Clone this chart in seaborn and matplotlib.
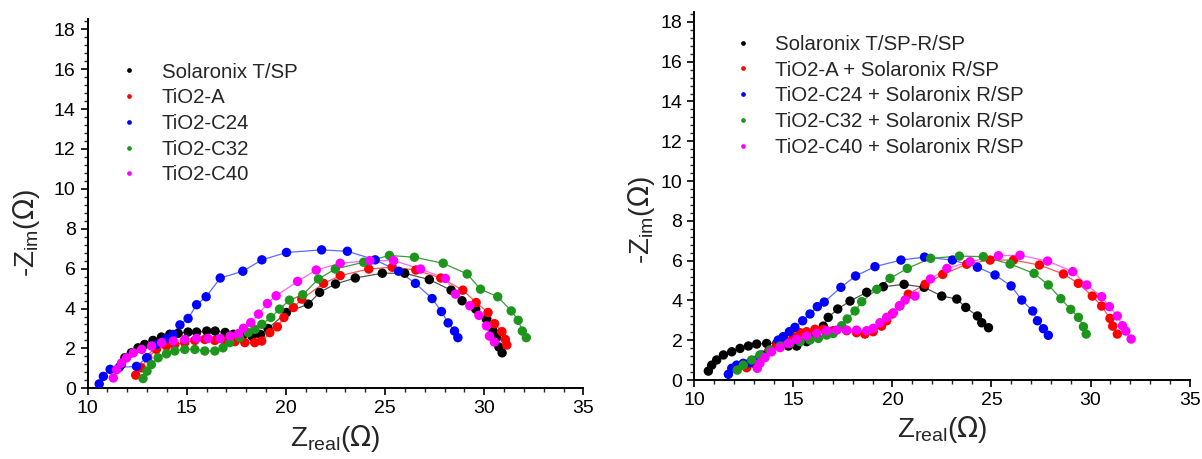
import matplotlib
matplotlib.use("Agg")
import matplotlib.pyplot as plt
from matplotlib.ticker import MultipleLocator
import seaborn as sns
import pandas as pd

# ---- left panel: photoanodes ----
left_names = ["Solaronix T/SP", "TiO2-A", "TiO2-C24", "TiO2-C32", "TiO2-C40"]

l_black_x = [11.70, 11.88, 12.21, 12.55, 12.88, 13.30, 13.73, 14.15, 14.57, 15.07, 15.50, 16.01,
             16.43, 16.94, 17.36, 17.82, 18.30, 18.72, 19.10, 20.03, 21.13, 21.70, 22.50, 23.50,
             24.86, 25.99, 27.23, 28.33, 28.88, 29.57, 30.11, 30.45, 30.62, 30.74, 30.90]
l_black_y = [1.19, 1.53, 1.78, 2.03, 2.20, 2.40, 2.57, 2.71, 2.76, 2.82, 2.82, 2.87,
             2.87, 2.80, 2.71, 2.65, 2.60, 2.70, 3.00, 3.80, 4.22, 4.81, 5.23, 5.53,
             5.77, 5.77, 5.45, 4.92, 4.39, 3.97, 3.46, 2.87, 2.54, 2.07, 1.78]

l_red_x = [12.43, 12.71, 13.04, 13.47, 13.98, 14.40, 14.90, 15.41, 15.91, 16.42, 16.93, 17.43,
           17.93, 18.43, 18.78, 19.19, 19.57, 19.90, 20.38, 20.80, 21.90, 22.74, 24.18, 25.36,
           26.55, 27.81, 28.92, 29.59, 30.19, 30.52, 30.89, 31.06, 31.14]
l_red_y = [0.66, 1.03, 1.53, 1.95, 2.12, 2.20, 2.29, 2.40, 2.45, 2.40, 2.37, 2.34,
           2.29, 2.29, 2.37, 2.79, 3.08, 3.55, 4.05, 4.47, 5.26, 5.65, 5.98, 6.07,
           5.93, 5.53, 4.92, 4.30, 3.80, 3.24, 2.84, 2.45, 2.17]

l_blue_x = [10.59, 10.80, 11.14, 11.60, 12.47, 12.98, 13.48, 13.98, 14.32, 14.66, 15.07, 15.50,
            15.98, 16.69, 17.83, 18.79, 20.03, 21.80, 23.10, 24.50, 25.68, 26.53, 27.37, 27.84,
            28.18, 28.50, 28.67]
l_blue_y = [0.22, 0.60, 0.95, 1.05, 1.10, 1.53, 2.20, 2.50, 2.70, 3.18, 3.50, 4.19,
            4.59, 5.53, 5.87, 6.44, 6.81, 6.94, 6.87, 6.44, 5.87, 5.26, 4.50, 3.85,
            3.28, 2.87, 2.54]

l_green_x = [12.80, 13.00, 13.22, 13.56, 13.98, 14.40, 14.90, 15.41, 15.91, 16.42, 16.83, 17.17,
             17.67, 18.10, 18.44, 18.79, 19.24, 19.68, 20.18, 20.85, 21.64, 22.49, 23.92, 25.22,
             26.48, 27.93, 29.14, 29.81, 30.68, 31.36, 31.71, 31.92, 32.12]
l_green_y = [0.49, 0.86, 1.19, 1.53, 1.73, 1.87, 1.95, 1.95, 1.87, 1.87, 2.03, 2.29,
             2.54, 2.79, 2.96, 3.21, 3.55, 3.97, 4.42, 4.69, 5.48, 5.98, 6.32, 6.66,
             6.57, 6.27, 5.73, 4.97, 4.59, 3.88, 3.41, 2.87, 2.54]

l_mag_x = [11.30, 11.47, 11.72, 11.97, 12.31, 12.73, 13.23, 13.74, 14.32, 14.90, 15.50, 16.08,
           16.68, 17.19, 17.61, 17.86, 18.23, 18.62, 19.07, 19.51, 20.59, 21.53, 22.74, 24.23,
           25.43, 26.79, 28.04, 28.55, 29.27, 29.73, 30.11, 30.26, 30.51]
l_mag_y = [0.52, 0.94, 1.27, 1.53, 1.78, 1.95, 2.12, 2.29, 2.37, 2.45, 2.50, 2.50,
           2.50, 2.62, 2.74, 3.01, 3.29, 3.72, 4.25, 4.64, 5.36, 5.93, 6.27, 6.40,
           6.40, 5.98, 5.51, 4.72, 4.14, 3.66, 3.13, 2.62, 2.32]

# ---- right panel: photoanode + Solaronix R/SP ----
right_names = ["Solaronix T/SP-R/SP", "TiO2-A + Solaronix R/SP", "TiO2-C24 + Solaronix R/SP",
               "TiO2-C32 + Solaronix R/SP", "TiO2-C40 + Solaronix R/SP"]

r_black_x = [10.71, 10.88, 11.13, 11.47, 11.89, 12.31, 12.73, 13.15, 13.65, 14.16, 14.75, 15.17,
             15.67, 16.09, 16.51, 16.76, 17.24, 17.86, 18.70, 19.54, 20.59, 21.60, 22.49, 23.25,
             23.70, 24.29, 24.51, 24.85]
r_black_y = [0.45, 0.75, 1.01, 1.26, 1.42, 1.59, 1.71, 1.81, 1.84, 1.84, 1.71, 1.71,
             1.93, 2.26, 2.71, 3.15, 3.57, 3.97, 4.41, 4.69, 4.81, 4.66, 4.22, 4.07,
             3.65, 3.22, 2.88, 2.63]

r_red_x = [12.64, 12.98, 13.31, 13.73, 14.16, 14.58, 15.00, 15.34, 15.67, 16.09, 16.51, 17.01,
           17.69, 18.19, 18.61, 19.03, 19.45, 19.71, 19.99, 20.38, 20.80, 21.65, 22.54, 23.75,
           24.93, 26.11, 27.42, 28.63, 29.38, 30.09, 30.56, 30.98, 31.12, 31.35]
r_red_y = [0.62, 0.84, 1.09, 1.42, 1.76, 2.01, 2.18, 2.38, 2.43, 2.55, 2.55, 2.48,
           2.48, 2.38, 2.31, 2.43, 2.71, 2.98, 3.32, 3.74, 4.31, 4.81, 5.31, 5.82,
           6.03, 6.03, 5.78, 5.33, 4.86, 4.22, 3.72, 3.10, 2.71, 2.31]

r_blue_x = [11.72, 11.89, 12.14, 12.47, 12.81, 13.15, 13.40, 13.82, 14.24, 14.49, 14.80, 15.08,
            15.47, 15.84, 16.21, 16.56, 17.40, 18.14, 19.12, 20.43, 21.62, 23.03, 24.29, 25.18,
            25.99, 26.53, 27.08, 27.32, 27.62, 27.87]
r_blue_y = [0.29, 0.59, 0.75, 0.84, 0.87, 1.01, 1.26, 1.51, 2.01, 2.18, 2.43, 2.65,
            2.98, 3.32, 3.69, 3.92, 4.66, 5.23, 5.70, 6.03, 6.18, 6.03, 5.67, 5.28,
            4.73, 4.02, 3.47, 2.98, 2.58, 2.25]

r_green_x = [12.17, 12.47, 12.90, 13.31, 13.82, 14.33, 14.83, 15.34, 15.84, 16.26, 16.68, 17.01,
             17.44, 17.72, 18.11, 18.45, 19.21, 19.88, 20.75, 21.93, 23.38, 24.59, 25.94, 27.15,
             27.87, 28.50, 29.00, 29.39, 29.64, 29.78]
r_green_y = [0.50, 0.75, 1.01, 1.26, 1.51, 1.71, 1.84, 1.93, 2.01, 2.09, 2.26, 2.34,
             2.73, 3.07, 3.47, 3.94, 4.56, 5.11, 5.61, 6.12, 6.23, 6.20, 5.83, 5.36,
             4.78, 4.09, 3.55, 3.15, 2.68, 2.31]

r_mag_x = [13.18, 13.31, 13.57, 13.90, 14.33, 14.75, 15.17, 15.67, 16.18, 16.68, 17.19, 17.69,
           18.19, 18.70, 19.03, 19.37, 19.71, 20.05, 20.35, 20.64, 21.14, 21.92, 22.75, 23.92,
           25.35, 26.44, 27.83, 29.10, 29.81, 30.56, 30.95, 31.35, 31.61, 31.78, 32.05]
r_mag_y = [0.59, 0.84, 1.13, 1.42, 1.63, 1.84, 2.04, 2.21, 2.34, 2.48, 2.51, 2.51,
           2.51, 2.48, 2.60, 2.88, 3.15, 3.38, 3.72, 4.02, 4.22, 5.08, 5.61, 5.95,
           6.25, 6.27, 5.98, 5.45, 4.78, 4.19, 3.69, 3.22, 2.73, 2.46, 2.06]

colors = ["#000000", "#ff0000", "#0000ff", "#1e961e", "#ff00ff"]
line_colors = ["#555555", "#ff5555", "#5a6cff", "#3c9a3c", "#ff66ff"]

left_series = [(l_black_x, l_black_y), (l_red_x, l_red_y), (l_blue_x, l_blue_y),
               (l_green_x, l_green_y), (l_mag_x, l_mag_y)]
right_series = [(r_black_x, r_black_y), (r_red_x, r_red_y), (r_blue_x, r_blue_y),
                (r_green_x, r_green_y), (r_mag_x, r_mag_y)]


def build_frame(names, series):
    rows = []
    for name, (xs, ys) in zip(names, series):
        for x, y in zip(xs, ys):
            rows.append({"sample": name, "zre": x, "zim": y})
    return pd.DataFrame(rows)


sns.set_style("white")
plt.rcParams["font.family"] = ["Liberation Sans", "DejaVu Sans"]

fig = plt.figure(figsize=(12.02, 4.59), dpi=100)
ax1 = fig.add_axes([0.0728, 0.154, 0.4126, 0.804])
ax2 = fig.add_axes([0.5776, 0.172, 0.4121, 0.802])


def draw_panel(ax, names, series, leg_anchor, ylab_pos):
    df = build_frame(names, series)
    pal = dict(zip(names, colors))
    lpal = dict(zip(names, line_colors))
    sns.lineplot(data=df, x="zre", y="zim", hue="sample", palette=lpal, sort=False,
                 estimator=None, units="sample", linewidth=0.9, legend=False, ax=ax)
    sns.scatterplot(data=df, x="zre", y="zim", hue="sample", palette=pal, s=46,
                    edgecolor="none", ax=ax, zorder=3)
    ax.set_xlim(10, 35)
    ax.set_ylim(0, 18.5)
    ax.xaxis.set_major_locator(MultipleLocator(5))
    ax.xaxis.set_minor_locator(MultipleLocator(1))
    ax.yaxis.set_major_locator(MultipleLocator(2))
    ax.yaxis.set_minor_locator(MultipleLocator(0.4))
    ax.tick_params(which="major", direction="out", length=5, width=1.2,
                   labelsize=14, colors="black", left=True, bottom=True)
    ax.tick_params(which="minor", direction="out", length=3, width=1, left=True, bottom=True)
    for side in ["top", "right"]:
        ax.spines[side].set_visible(False)
    for side in ["left", "bottom"]:
        ax.spines[side].set_color("black")
        ax.spines[side].set_linewidth(1.4)
    ax.set_xlabel(r"Z$_{\mathregular{real}}$($\Omega$)", fontsize=20, labelpad=4)
    ax.set_ylabel(r"-Z$_{\mathregular{im}}$($\Omega$)", fontsize=20)
    ax.yaxis.set_label_coords(*ylab_pos)
    ax.legend(loc="upper left", bbox_to_anchor=leg_anchor, frameon=False, fontsize=14.7,
              markerscale=0.5, handletextpad=0.6, labelspacing=0.33, borderaxespad=0)


draw_panel(ax1, left_names, left_series, (0.026, 0.905), (-0.092, 0.42))
draw_panel(ax2, right_names, right_series, (0.04, 0.96), (-0.075, 0.435))

fig.savefig("out.png", dpi=100)
